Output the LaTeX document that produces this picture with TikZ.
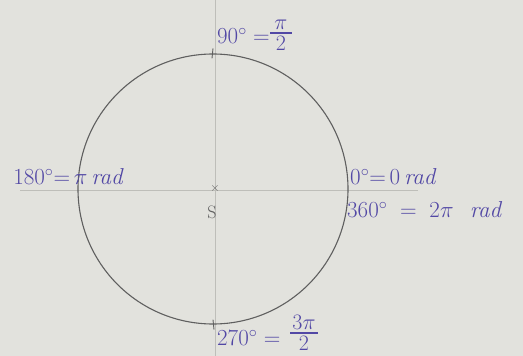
\RequirePackage{fix-cm}
\documentclass[tikz,border=0pt]{standalone}
\usepackage{amsmath}
\definecolor{paper}{RGB}{226,226,221}
\definecolor{ink}{RGB}{82,72,165}
\definecolor{pencil}{RGB}{95,95,95}
\definecolor{guide}{RGB}{190,190,185}
\begin{document}
\begin{tikzpicture}[x=1pt,y=-1pt,
  handlabel/.style={text=ink,font=\fontsize{23}{26}\selectfont\itshape,inner sep=1pt},
  fracpart/.style={text=ink,font=\fontsize{22}{24}\selectfont,inner sep=0pt},
  fracbar/.style={draw=ink,line width=1.1pt},
  guideline/.style={draw=guide,line width=0.8pt},
  tickmark/.style={draw=pencil,line width=0.9pt}]
\fill[paper] (0,0) rectangle (523,356);
\useasboundingbox (0,0) rectangle (523,356);
% axes (faint guide lines)
\coordinate (hl) at (20,190);
\coordinate (hr) at (418,190);
\coordinate (vt) at (215,0);
\coordinate (vb) at (215,356);
\draw[guideline] (hl) -- (hr);
\draw[guideline] (vt) -- (vb);
% circle
\node[circle,draw=pencil,line width=1.1pt,minimum size=270pt,inner sep=0pt] (c) at (213,189) {};
% ticks
\draw[tickmark] ([shift={(0,-5)}]c.north) -- ([shift={(-1,5)}]c.north);
\draw[tickmark] ([shift={(0,-5)}]c.south) -- ([shift={(1,5)}]c.south);
% center mark and label
\node[text=pencil,font=\large,inner sep=0pt] (ctr) at (215,188) {$\times$};
\node[text=pencil,font=\fontsize{18}{20}\selectfont,inner sep=0pt] (s) at (212,212) {S};
% top label
\node[handlabel,anchor=west] (top) at (216,36) {$90^\circ =$};
\node[fracpart,anchor=south] (topn) at (281,30) {$\pi$};
\node[fracpart,anchor=north] (topd) at (281,36) {$2$};
\coordinate (tbl) at (270,33);
\coordinate (tbr) at (292,33);
\draw[fracbar] (tbl) -- (tbr);
% side labels
\node[handlabel] (left) at (68,177) {$180^\circ{=}\,\pi\,$rad};
\node[handlabel,anchor=west] (r1) at (349,177) {$0^\circ{=}\,0\,$rad};
\node[handlabel,anchor=west] (r2) at (346,210) {$360^\circ \;=\; 2\pi$ \ rad};
% bottom label
\node[handlabel,anchor=west] (bot) at (216,338) {$270^\circ =$};
\node[fracpart,anchor=south] (botn) at (304,330) {$3\pi$};
\node[fracpart,anchor=north] (botd) at (304,336) {$2$};
\coordinate (bbl) at (290,333);
\coordinate (bbr) at (318,333);
\draw[fracbar] (bbl) -- (bbr);
\end{tikzpicture}
\end{document}
